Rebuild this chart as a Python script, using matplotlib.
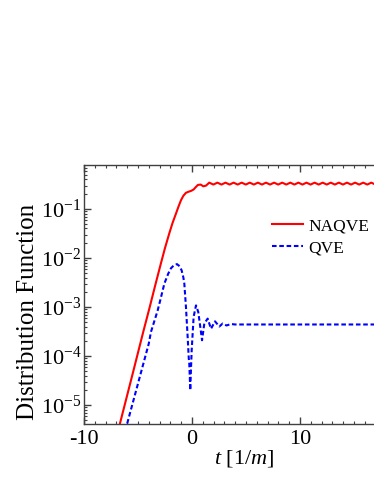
import matplotlib
matplotlib.use("Agg")
import matplotlib.pyplot as plt
from matplotlib.ticker import MultipleLocator, FixedLocator, LogLocator, NullFormatter

plt.rcParams["font.family"] = "Liberation Serif"
plt.rcParams["mathtext.fontset"] = "custom"
plt.rcParams["mathtext.rm"] = "Liberation Serif"
plt.rcParams["mathtext.it"] = "Liberation Serif:italic"
plt.rcParams["axes.unicode_minus"] = False

# NAQVE (red, solid)
naqve_t = [-6.67, -5.5, -4.5, -3.95, -3.4, -2.87, -2.5, -2.1, -1.8, -1.48,
           -1.25, -1.02, -0.8, -0.56, -0.3, -0.09, 0.15, 0.35, 0.55, 0.8,
           1.05, 1.3,
           1.6, 1.98, 2.35, 2.73, 3.1, 3.48, 3.85, 4.23, 4.6, 4.98,
           5.35, 5.73, 6.1, 6.48, 6.85, 7.23, 7.6, 7.98, 8.35, 8.73,
           9.1, 9.48, 9.85, 10.23, 10.6, 10.98, 11.35, 11.73, 12.1, 12.48,
           12.85, 13.23, 13.6, 13.98, 14.35, 14.73, 15.1, 15.48, 15.85, 16.23,
           16.6, 16.98, 17.35, 17.73]
naqve_f = [4.2e-6, 4.3e-5, 3.2e-4, 9.3e-4, 2.8e-3, 7.9e-3, 1.6e-2, 3.2e-2, 5.2e-2, 8.1e-2,
           0.112, 0.151, 0.186, 0.214, 0.226, 0.234, 0.25, 0.28, 0.31, 0.315,
           0.29, 0.30,
           0.345, 0.315, 0.345, 0.315, 0.345, 0.315, 0.345, 0.315, 0.345, 0.315,
           0.345, 0.315, 0.345, 0.315, 0.345, 0.315, 0.345, 0.315, 0.345, 0.315,
           0.345, 0.315, 0.345, 0.315, 0.345, 0.315, 0.345, 0.315, 0.345, 0.315,
           0.345, 0.315, 0.345, 0.315, 0.345, 0.315, 0.345, 0.315, 0.345, 0.315,
           0.345, 0.315, 0.345, 0.315]

# QVE (blue, dashed)
qve_t = [-6.0, -5.0, -4.0, -3.8, -3.18, -2.93, -2.56, -2.2, -1.94, -1.65,
         -1.39, -1.15, -0.96, -0.8, -0.71, -0.56, -0.4, -0.3, -0.25, -0.16,
         -0.1, -0.03, 0.15, 0.37, 0.58, 0.77, 0.93, 1.14, 1.45, 1.76,
         2.13, 2.53, 2.84, 3.2, 3.6, 4.0, 20.0]
qve_f = [4.2e-6, 2.75e-5, 1.8e-4, 3.1e-4, 8.5e-4, 1.4e-3, 3.0e-3, 4.8e-3, 6.2e-3, 7.2e-3,
         7.5e-3, 6.8e-3, 5.6e-3, 4.0e-3, 3.0e-3, 1.0e-3, 2.4e-4, 9.0e-5, 6.9e-5, 2.0e-5,
         5.0e-5, 1.3e-4, 6.3e-4, 1.08e-3, 7.9e-4, 3.9e-4, 2.1e-4, 4.6e-4, 5.8e-4, 3.6e-4,
         5.1e-4, 4.0e-4, 4.6e-4, 4.2e-4, 4.5e-4, 4.4e-4, 4.4e-4]

x_ticks = [-10, 0, 10]

fig = plt.figure(figsize=(3.74, 4.84), dpi=100)
ax = fig.add_axes([84 / 374, 60.5 / 484, 324 / 374, 258.5 / 484])

ax.plot(naqve_t, naqve_f, color="red", lw=1.5, label="NAQVE")
ax.plot(qve_t, qve_f, color="blue", lw=1.5, linestyle=(0, (2.2, 1.3)), label="QVE")

ax.set_yscale("log")
ax.set_xlim(-10, 20)
ax.set_ylim(4.2e-6, 0.79)
ax.xaxis.set_major_locator(FixedLocator(x_ticks))
ax.xaxis.set_minor_locator(MultipleLocator(1))
ax.yaxis.set_major_locator(LogLocator(base=10, numticks=20))
ax.yaxis.set_minor_locator(LogLocator(base=10, subs=range(2, 10), numticks=20))
ax.yaxis.set_minor_formatter(NullFormatter())

for s in ax.spines.values():
    s.set_color("#404040")
    s.set_linewidth(1.0)
ax.tick_params(which="both", direction="in", top=True, right=True, color="#404040")
ax.tick_params(which="major", length=5, width=1.0, labelsize=16)
ax.tick_params(which="minor", length=2.5, width=0.8)
ax.tick_params(axis="x", which="major", pad=5)
ax.tick_params(axis="y", which="major", pad=2)

ax.set_xlabel("$t$ [1/$m$]", fontsize=16)
ax.set_ylabel("Distribution Function", fontsize=18)
ax.xaxis.set_label_coords(0.494, -0.095)
ax.yaxis.set_label_coords(-0.14, 0.43)

ax.legend(loc="upper left", bbox_to_anchor=(272 / 374, 1 - 218 / 484),
          bbox_transform=fig.transFigure, frameon=False, fontsize=12.5,
          borderpad=0, borderaxespad=0, handlelength=1.8, handletextpad=0.3,
          labelspacing=0.35)

fig.savefig("out.png", dpi=100)
